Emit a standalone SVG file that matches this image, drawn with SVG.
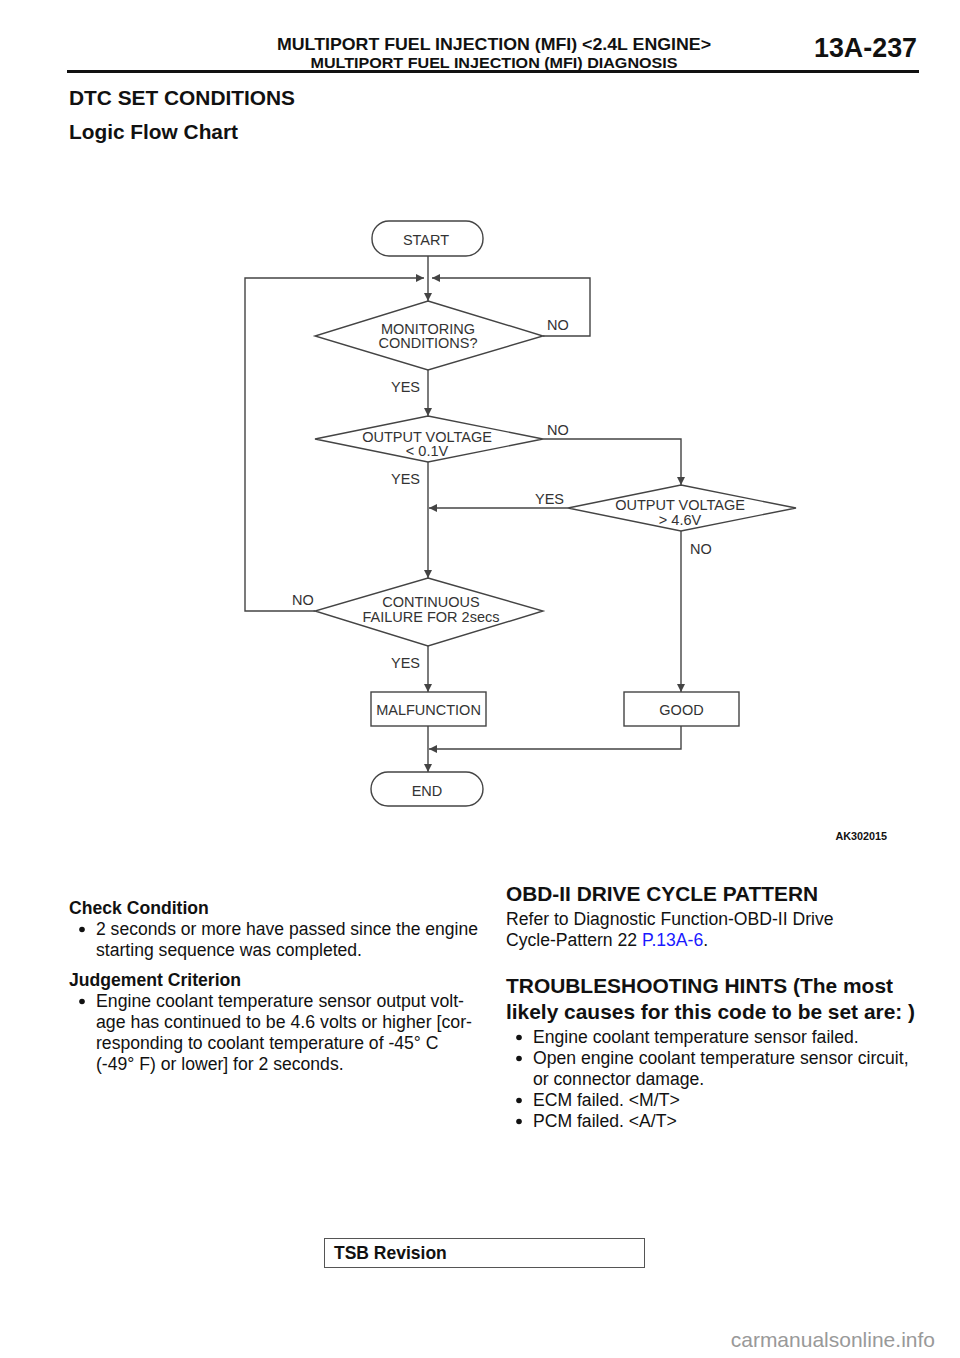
<svg xmlns="http://www.w3.org/2000/svg" width="960" height="1358" viewBox="0 0 960 1358">
<style>
.fc{font-family:"Liberation Sans",Arial,sans-serif;font-size:14.5px;fill:#333;}
.lbl{font-family:"Liberation Sans",Arial,sans-serif;font-size:14.5px;fill:#333;}
.shape{fill:#fff;stroke:#444;stroke-width:1.4;}
.ln{fill:none;stroke:#444;stroke-width:1.4;}
.body{font-family:"Liberation Sans",Arial,sans-serif;font-size:17.6px;fill:#111;}
.bh{font-family:"Liberation Sans",Arial,sans-serif;font-weight:bold;fill:#111;}
</style>
<defs>
<marker id="ar" viewBox="0 0 10 10" refX="10" refY="5" markerWidth="8" markerHeight="8" markerUnits="userSpaceOnUse" orient="auto">
<path d="M0,0 L10,5 L0,10 z" fill="#444"/>
</marker>
</defs>
<rect width="960" height="1358" fill="#fff"/>

<g id="header">
<text class="bh" x="494" y="50" font-size="16.5" text-anchor="middle" textLength="434" lengthAdjust="spacingAndGlyphs">MULTIPORT FUEL INJECTION (MFI) &lt;2.4L ENGINE&gt;</text>
<text class="bh" x="494" y="68" font-size="14" text-anchor="middle" textLength="367" lengthAdjust="spacingAndGlyphs">MULTIPORT FUEL INJECTION (MFI) DIAGNOSIS</text>
<text class="bh" x="917" y="57" font-size="27" text-anchor="end" textLength="103" lengthAdjust="spacingAndGlyphs">13A-237</text>
<line x1="67" y1="71.5" x2="919" y2="71.5" stroke="#111" stroke-width="3"/>
<text class="bh" x="69" y="105" font-size="20" textLength="226" lengthAdjust="spacingAndGlyphs">DTC SET CONDITIONS</text>
<text class="bh" x="69" y="139" font-size="20" textLength="169" lengthAdjust="spacingAndGlyphs">Logic Flow Chart</text>
</g>

<g id="connectors">
<line class="ln" x1="428" y1="256" x2="428" y2="301" marker-end="url(#ar)"/>
<polyline class="ln" points="315,611 245,611 245,278 424,278" marker-end="url(#ar)"/>
<polyline class="ln" points="543,336 590,336 590,278 432,278" marker-end="url(#ar)"/>
<line class="ln" x1="428" y1="370" x2="428" y2="416" marker-end="url(#ar)"/>
<polyline class="ln" points="543,439 681,439 681,485" marker-end="url(#ar)"/>
<line class="ln" x1="568" y1="508" x2="429" y2="508" marker-end="url(#ar)"/>
<line class="ln" x1="428" y1="462" x2="428" y2="578" marker-end="url(#ar)"/>
<line class="ln" x1="428" y1="646" x2="428" y2="692" marker-end="url(#ar)"/>
<line class="ln" x1="681" y1="531" x2="681" y2="692" marker-end="url(#ar)"/>
<polyline class="ln" points="681,726 681,749 429,749" marker-end="url(#ar)"/>
<line class="ln" x1="428" y1="726" x2="428" y2="772" marker-end="url(#ar)"/>
<text class="lbl" x="547" y="330">NO</text>
<text class="lbl" x="391" y="392">YES</text>
<text class="lbl" x="547" y="435">NO</text>
<text class="lbl" x="391" y="484">YES</text>
<text class="lbl" x="535" y="504">YES</text>
<text class="lbl" x="690" y="554">NO</text>
<text class="lbl" x="292" y="605">NO</text>
<text class="lbl" x="391" y="668">YES</text>
</g>

<g id="start">
<rect class="shape" x="372" y="221" width="111" height="35" rx="17"/>
<text class="fc" x="426" y="245" text-anchor="middle" font-size="17">START</text>
</g>
<g id="monitoring">
<polygon class="shape" points="428,301 543,336 428,370 315,336"/>
<text class="fc" x="428" y="334" text-anchor="middle">MONITORING</text>
<text class="fc" x="428" y="348" text-anchor="middle">CONDITIONS?</text>
</g>
<g id="out-low">
<polygon class="shape" points="428,416 543,439 428,462 315,439"/>
<text class="fc" x="427" y="442" text-anchor="middle">OUTPUT VOLTAGE</text>
<text class="fc" x="427" y="456" text-anchor="middle">&lt; 0.1V</text>
</g>
<g id="out-high">
<polygon class="shape" points="681,485 796,508 681,531 568,508"/>
<text class="fc" x="680" y="510" text-anchor="middle">OUTPUT VOLTAGE</text>
<text class="fc" x="680" y="525" text-anchor="middle">&gt; 4.6V</text>
</g>
<g id="continuous">
<polygon class="shape" points="428,578 543,611 428,646 315,611"/>
<text class="fc" x="431" y="607" text-anchor="middle">CONTINUOUS</text>
<text class="fc" x="431" y="622" text-anchor="middle">FAILURE FOR 2secs</text>
</g>
<g id="malfunction">
<rect class="shape" x="371" y="692" width="115" height="34"/>
<text class="fc" x="428.5" y="715" text-anchor="middle">MALFUNCTION</text>
</g>
<g id="good">
<rect class="shape" x="624" y="692" width="115" height="34"/>
<text class="fc" x="681.5" y="715" text-anchor="middle">GOOD</text>
</g>
<g id="end">
<rect class="shape" x="371" y="772" width="112" height="34" rx="17"/>
<text class="fc" x="427" y="796" text-anchor="middle" font-size="17">END</text>
</g>
<text class="bh" x="887" y="840" font-size="10.8" text-anchor="end">AK302015</text>

<g id="left-text">
<text class="bh" x="69" y="914" font-size="17.6">Check Condition</text>
<circle cx="82" cy="929.5" r="2.8" fill="#111"/>
<text class="body" x="96" y="935" textLength="382" lengthAdjust="spacingAndGlyphs">2 seconds or more have passed since the engine</text>
<text class="body" x="96" y="956">starting sequence was completed.</text>
<text class="bh" x="69" y="986" font-size="17.6">Judgement Criterion</text>
<circle cx="82" cy="1001.5" r="2.8" fill="#111"/>
<text class="body" x="96" y="1007" textLength="368" lengthAdjust="spacingAndGlyphs">Engine coolant temperature sensor output volt-</text>
<text class="body" x="96" y="1028" textLength="376" lengthAdjust="spacingAndGlyphs">age has continued to be 4.6 volts or higher [cor-</text>
<text class="body" x="96" y="1049">responding to coolant temperature of -45° C</text>
<text class="body" x="96" y="1070">(-49° F) or lower] for 2 seconds.</text>
</g>

<g id="right-text">
<text class="bh" x="506" y="901" font-size="20.5" textLength="312" lengthAdjust="spacingAndGlyphs">OBD-II DRIVE CYCLE PATTERN</text>
<text class="body" x="506" y="925">Refer to Diagnostic Function-OBD-II Drive</text>
<text class="body" x="506" y="946">Cycle-Pattern 22 <tspan fill="#1a1aff">P.13A-6</tspan>.</text>
<text class="bh" x="506" y="993" font-size="20.5" textLength="387" lengthAdjust="spacingAndGlyphs">TROUBLESHOOTING HINTS (The most</text>
<text class="bh" x="506" y="1019" font-size="20.5" textLength="409" lengthAdjust="spacingAndGlyphs">likely causes for this code to be set are: )</text>
<circle cx="519" cy="1037.5" r="2.8" fill="#111"/>
<text class="body" x="533" y="1043">Engine coolant temperature sensor failed.</text>
<circle cx="519" cy="1058.5" r="2.8" fill="#111"/>
<text class="body" x="533" y="1064">Open engine coolant temperature sensor circuit,</text>
<text class="body" x="533" y="1085">or connector damage.</text>
<circle cx="519" cy="1100.5" r="2.8" fill="#111"/>
<text class="body" x="533" y="1106">ECM failed. &lt;M/T&gt;</text>
<circle cx="519" cy="1121.5" r="2.8" fill="#111"/>
<text class="body" x="533" y="1127">PCM failed. &lt;A/T&gt;</text>
</g>

<g id="footer">
<rect x="324.5" y="1238.5" width="320" height="29" fill="none" stroke="#555" stroke-width="1"/>
<text class="bh" x="334" y="1259" font-size="17.5">TSB Revision</text>
<text x="935" y="1347" font-family="Liberation Sans,Arial,sans-serif" font-size="21" fill="#999" text-anchor="end">carmanualsonline.info</text>
</g>
</svg>
